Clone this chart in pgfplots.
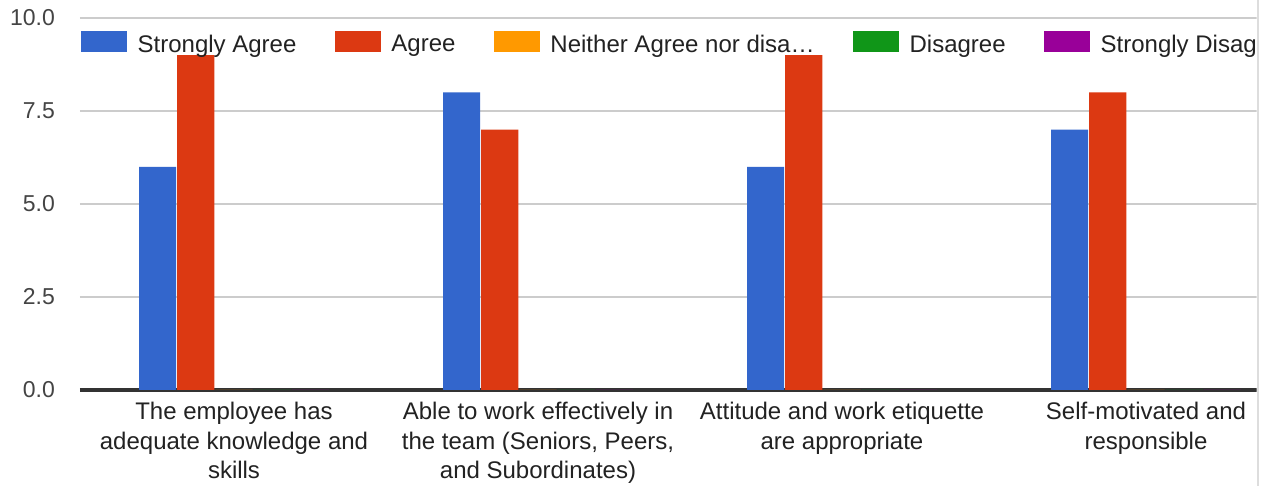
\documentclass[border=0pt]{standalone}
\usepackage{pgfplots}
\pgfplotsset{compat=1.18}
\usepackage{fontspec}
\setmainfont{Liberation Sans}
\definecolor{gblue}{HTML}{3366CC}
\definecolor{gred}{HTML}{DC3912}
\definecolor{gorange}{HTML}{FF9900}
\definecolor{ggreen}{HTML}{109618}
\definecolor{gpurple}{HTML}{990099}
\definecolor{gridc}{HTML}{CCCCCC}
\definecolor{basec}{HTML}{333333}
\definecolor{txt}{HTML}{222222}
\definecolor{ticktxt}{HTML}{444444}
\definecolor{edgec}{HTML}{DDDDDD}
\begin{document}
\begin{tikzpicture}[x=1pt,y=1pt]
\useasboundingbox (0,0) rectangle (1269,486);
\fill[white] (0,0) rectangle (1269,486);
\begin{scope}
\clip (0,0) rectangle (1256.5,486);
\begin{axis}[
  at={(80pt,96pt)}, anchor=south west,
  scale only axis, width=1218pt, height=372pt,
  xmin=-0.50658, xmax=3.5, ymin=0, ymax=10,
  ybar=1pt, bar width=37.2pt,
  axis line style={draw=none},
  major tick length=0pt,
  ymajorgrids, grid style={color=gridc, line width=2.5pt},
  ytick={0,2.5,5,7.5,10},
  extra y ticks={0}, extra y tick labels={},
  extra y tick style={grid style={color=basec, line width=3.5pt}},
  /pgf/number format/.cd, fixed, fixed zerofill, precision=1, assume math mode=true,
  /pgfplots/.cd,
  yticklabel style={font=\fontsize{23}{28}\selectfont, text=ticktxt, anchor=east, inner sep=0pt, xshift=-25pt},
  xtick={0,1,2,3},
  xticklabels={{The employee has\\adequate knowledge and\\skills},
               {Able to work effectively in\\the team (Seniors, Peers,\\and Subordinates)},
               {Attitude and work etiquette\\are appropriate},
               {Self-motivated and\\responsible}},
  xticklabel style={font=\fontsize{24}{29.5}\selectfont, text=txt, align=center, anchor=north, inner sep=0pt, yshift=-12pt},
  legend columns=5,
  legend cell align=left,
  legend image code/.code={\fill[#1,draw=none] (0pt,-8pt) rectangle (46pt,13pt);},
  legend style={at={(0,1)}, anchor=north west, xshift=1pt, yshift=-13pt,
    draw=none, fill=none, inner sep=0pt, font=\fontsize{24}{29}\selectfont, text=txt,
    nodes={inner sep=0pt},
    /tikz/every odd column/.append style={column sep=10.5pt},
    /tikz/every even column/.append style={column sep=38.5pt}},
]
\addplot[fill=gblue, draw=none] coordinates {(0,6) (1,8) (2,6) (3,7)};
\addplot[fill=gred, draw=none] coordinates {(0,9) (1,7) (2,9) (3,8)};
\addplot[fill=gorange, draw=none] coordinates {(0,0) (1,0) (2,0) (3,0)};
\addplot[fill=ggreen, draw=none] coordinates {(0,0) (1,0) (2,0) (3,0)};
\addplot[fill=gpurple, draw=none] coordinates {(0,0) (1,0) (2,0) (3,0)};
\legend{Strongly Agree, Agree, Neither Agree nor disa…, Disagree, Strongly Disagree}
\end{axis}
\end{scope}
\draw[edgec, line width=2pt] (1258,0) -- (1258,486);
\end{tikzpicture}
\end{document}
